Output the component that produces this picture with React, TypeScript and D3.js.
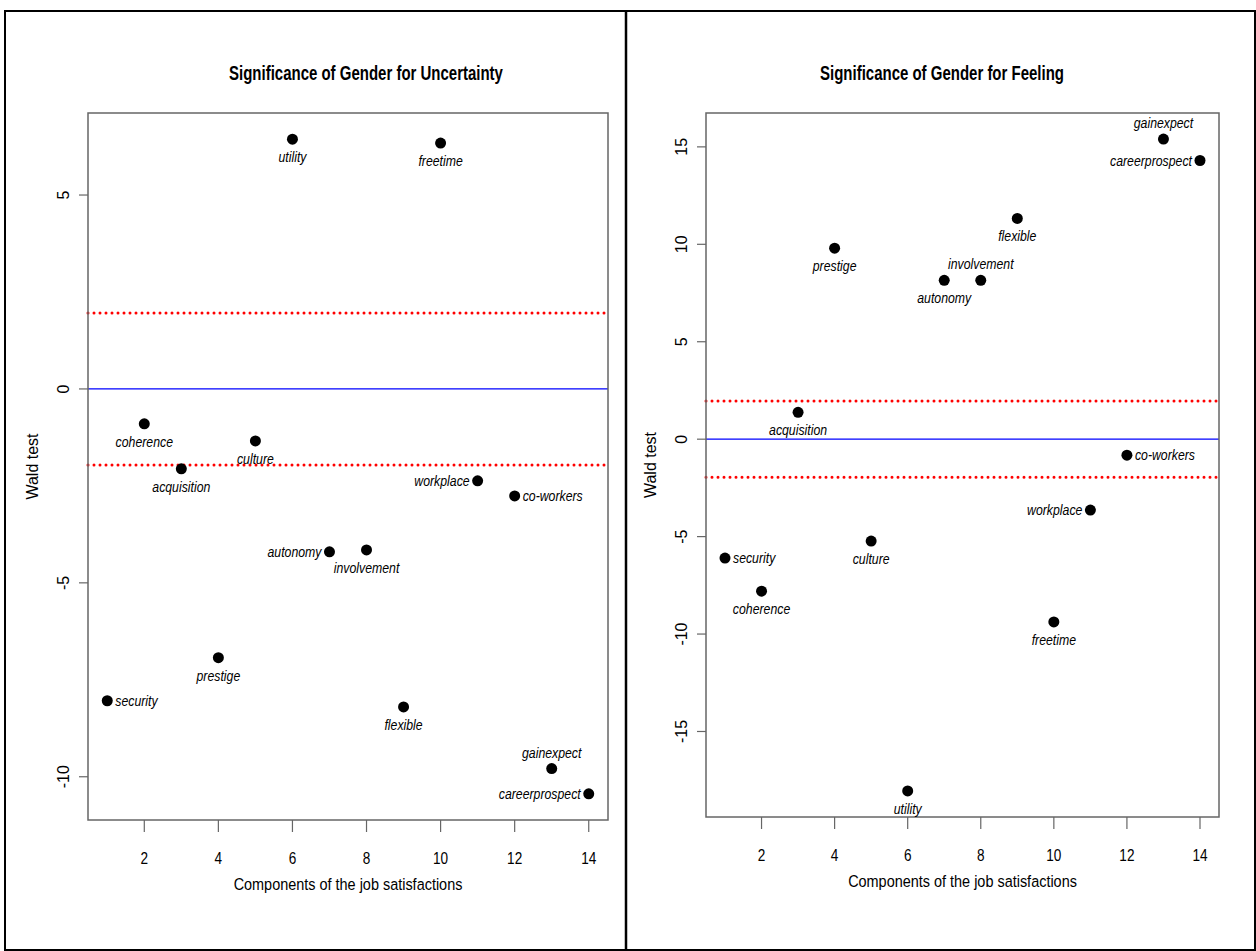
import React from 'react';
import * as d3 from 'd3';

// job satisfaction components, in plotting order (x = 1..14)
const components = [
  'security', 'coherence', 'acquisition', 'prestige', 'culture', 'utility', 'autonomy',
  'involvement', 'flexible', 'freetime', 'workplace', 'co-workers', 'gainexpect', 'careerprospect',
];

// Wald test values
const uncertaintyWald = [-8.04, -0.9, -2.06, -6.93, -1.34, 6.44, -4.2, -4.15, -8.2, 6.34, -2.37, -2.76, -9.79, -10.44];
const feelingWald = [-6.1, -7.8, 1.38, 9.8, -5.23, -18.05, 8.15, 8.15, 11.33, -9.38, -3.64, -0.82, 15.4, 14.3];

// label side for each point: 1 below, 2 left, 3 above, 4 right (like R's pos)
const uncertaintyPos = [4, 1, 1, 1, 1, 1, 2, 1, 1, 1, 2, 4, 3, 2];
const feelingPos = [4, 1, 1, 1, 1, 1, 1, 3, 1, 1, 2, 4, 3, 2];

const xTicks = [2, 4, 6, 8, 10, 12, 14];
const uncertaintyTicks = [-10, -5, 0, 5];
const feelingTicks = [-15, -10, -5, 0, 5, 10, 15];
const critical = 1.96;

const FONT = '"Liberation Sans", Arial, sans-serif';

// condensed text (the original uses a narrow Helvetica)
function NText({ x, y, size, squeeze = 0.8, anchor = 'middle', bold = false, italic = false, children }: any) {
  return (
    <text transform={`translate(${x},${y}) scale(${squeeze},1)`} textAnchor={anchor}
      fontSize={size} fontWeight={bold ? 'bold' : 'normal'} fontStyle={italic ? 'italic' : 'normal'}>
      {children}
    </text>
  );
}

type PanelProps = {
  title: string;
  titleX: number;
  values: number[];
  pos: number[];
  yTicks: number[];
  box: { x0: number; x1: number; y0: number; y1: number };
};

function extend(lo: number, hi: number): [number, number] {
  const pad = (hi - lo) * 0.04;
  return [lo - pad, hi + pad];
}

function Panel({ title, titleX, values, pos, yTicks, box }: PanelProps) {
  const x = d3.scaleLinear().domain(extend(1, components.length)).range([box.x0, box.x1]);
  const y = d3
    .scaleLinear()
    .domain(extend(d3.min(values) as number, d3.max(values) as number))
    .range([box.y1, box.y0]);
  const cx = (box.x0 + box.x1) / 2;
  const cy = (box.y0 + box.y1) / 2;

  return (
    <g fontFamily={FONT}>
      <NText x={titleX} y={80} size={20} squeeze={0.75} bold>{title}</NText>

      {/* reference lines */}
      <line x1={box.x0} x2={box.x1} y1={y(0)} y2={y(0)} stroke="#0000ff" strokeWidth={1.2} />
      {[critical, -critical].map(c => (
        <line key={c} x1={box.x0} x2={box.x1} y1={y(c)} y2={y(c)}
          stroke="#ff0000" strokeWidth={3} strokeDasharray="0 6" strokeLinecap="round" />
      ))}

      <rect x={box.x0} y={box.y0} width={box.x1 - box.x0} height={box.y1 - box.y0}
        fill="none" stroke="#666" strokeWidth={1.5} />

      {/* x axis */}
      {xTicks.map(t => (
        <g key={t}>
          <line x1={x(t)} x2={x(t)} y1={box.y1} y2={box.y1 + 12} stroke="#666" strokeWidth={1.2} />
          <NText x={x(t)} y={box.y1 + 44} size={17} squeeze={0.8}>{t}</NText>
        </g>
      ))}
      <NText x={cx} y={box.y1 + 70} size={17} squeeze={0.85}>Components of the job satisfactions</NText>

      {/* y axis */}
      {yTicks.map(t => (
        <g key={t}>
          <line x1={box.x0} x2={box.x0 - 9} y1={y(t)} y2={y(t)} stroke="#666" strokeWidth={1.2} />
          <text transform={`translate(${box.x0 - 19},${y(t)}) rotate(-90)`} textAnchor="middle"
            fontSize={16}>{t}</text>
        </g>
      ))}
      <text transform={`translate(${box.x0 - 50},${cy}) rotate(-90)`} textAnchor="middle"
        fontSize={16}>Wald test</text>

      {/* points and labels */}
      {values.map((v, i) => {
        const px = x(i + 1);
        const py = y(v);
        const p = pos[i];
        let lx = px, ly = py + 5, anchor = 'middle';
        if (p === 1) ly = py + 23;
        if (p === 3) ly = py - 11;
        if (p === 2) { lx = px - 8; anchor = 'end'; }
        if (p === 4) { lx = px + 8; anchor = 'start'; }
        return (
          <g key={components[i]}>
            <circle cx={px} cy={py} r={5.5} fill="#000" />
            <NText x={lx} y={ly} anchor={anchor} size={15} squeeze={0.82} italic>{components[i]}</NText>
          </g>
        );
      })}
    </g>
  );
}

export default function App() {
  return (
    <svg width={1256} height={951} style={{ position: 'absolute', left: 0, top: 0, background: '#fff' }}>
      <rect x={5} y={11} width={1250} height={939} fill="none" stroke="#000" strokeWidth={2} />
      <line x1={626} x2={626} y1={11} y2={951} stroke="#000" strokeWidth={2.5} />
      <Panel
        title="Significance of Gender for Uncertainty"
        titleX={366}
        values={uncertaintyWald}
        pos={uncertaintyPos}
        yTicks={uncertaintyTicks}
        box={{ x0: 88, x1: 608, y0: 113, y1: 820 }}
      />
      <Panel
        title="Significance of Gender for Feeling"
        titleX={942}
        values={feelingWald}
        pos={feelingPos}
        yTicks={feelingTicks}
        box={{ x0: 706, x1: 1219, y0: 113, y1: 817 }}
      />
    </svg>
  );
}
